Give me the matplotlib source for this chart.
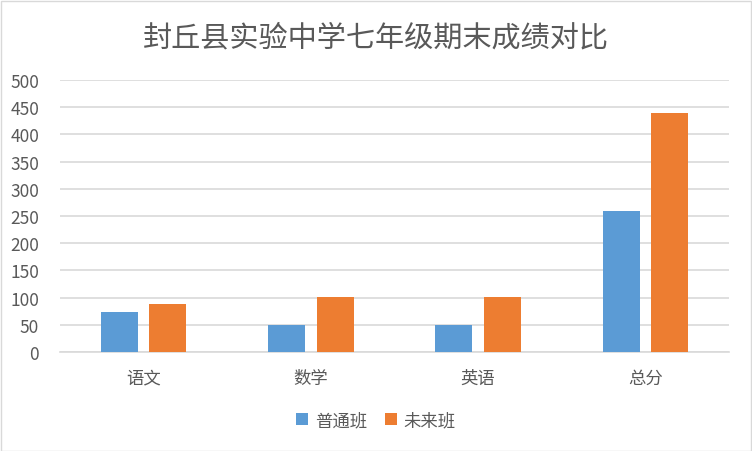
import numpy as np
import matplotlib.pyplot as plt
from matplotlib.patches import Rectangle

plt.rcParams['font.family'] = ['Noto Sans CJK SC', 'DejaVu Sans']

categories = ['语文', '数学', '英语', '总分']
series_names = ['普通班', '未来班']
putong = [74, 50, 50, 260]
weilai = [89, 101, 101, 440]

grey = '#595959'
colors = ['#5b9bd5', '#ed7d31']

fig = plt.figure(figsize=(7.52, 4.52), dpi=100)
ax = fig.add_axes([60 / 752, 99 / 452, 669 / 752, 272 / 452])

x = np.arange(len(categories))
w = 0.22
off = 0.145
ax.bar(x - off, putong, w, color=colors[0], label=series_names[0], zorder=3)
ax.bar(x + off, weilai, w, color=colors[1], label=series_names[1], zorder=3)

ax.set_xlim(-0.5, 3.5)
ax.set_ylim(0, 500)
ax.set_yticks(range(0, 501, 50))
ax.set_xticks(x)
ax.set_xticklabels(categories)
ax.yaxis.grid(True, color='#d9d9d9', linewidth=1.2, zorder=0)
for s in ['top', 'right', 'left']:
    ax.spines[s].set_visible(False)
ax.spines['bottom'].set_color('#d9d9d9')
ax.spines['bottom'].set_linewidth(1.2)
ax.tick_params(length=0, labelsize=12.5, colors=grey)
ax.tick_params(axis='x', pad=12)
ax.tick_params(axis='y', pad=15)

fig.text(0.5, 1 - 38 / 452, '封丘县实验中学七年级期末成绩对比', ha='center', va='center',
         fontsize=21, color=grey)

leg = fig.legend(loc='center', bbox_to_anchor=(0.5, 1 - 421 / 452), ncol=2, frameon=False,
                 fontsize=12.5, handlelength=0.7, handleheight=0.7, handletextpad=0.4,
                 columnspacing=1.0, labelcolor=grey)

fig.patches.append(Rectangle((0.5 / 752, 0.5 / 452), 750 / 752, 450 / 452, transform=fig.transFigure,
                             fill=False, edgecolor='#d9d9d9', linewidth=1))

fig.savefig('out.png', dpi=100)
